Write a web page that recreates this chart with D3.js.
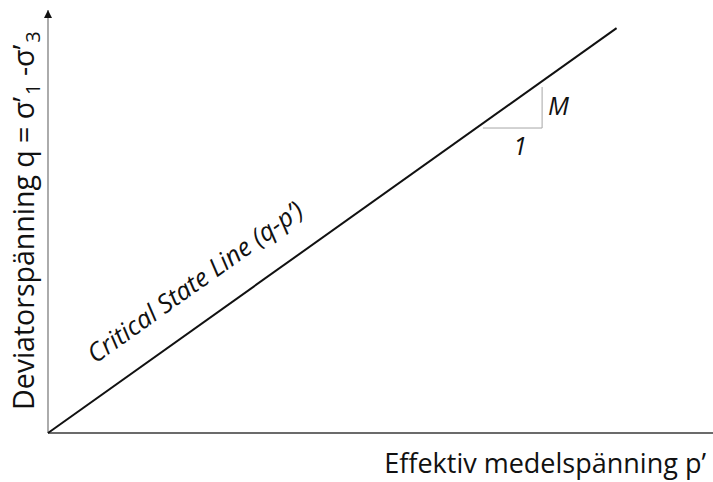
<!DOCTYPE html>
<html>
<head>
<meta charset="utf-8">
<script src="https://cdn.jsdelivr.net/npm/d3@7"></script>
<style>
  body { margin: 0; background: #fff; }
  text { font-family: "Open Sans", "Noto Sans", sans-serif; fill: #111; }
</style>
</head>
<body>
<div class="chart"></div>
<script>
// critical state line, schematic units (p', q)
const cslP = [0, 85.5];
const cslQ = [0, 95.7];

// slope triangle (1 : M)
const triP = [65.4, 74.3, 74.3];
const triQ = [72.1, 72.1, 81.8];

const xLabel = "Effektiv medelspänning p\u2019";
const yLabel = ["Deviatorspänning q = σ\u2019", "1", " -σ\u2019", "3"];
const cslLabel = "Critical State Line (q-p\u2019)";

const W = 713, H = 482;
const margin = { top: 10, right: 0, bottom: 49, left: 48 };

const x = d3.scaleLinear().domain([0, 100]).range([margin.left, W - margin.right]);
const y = d3.scaleLinear().domain([0, 100]).range([H - margin.bottom, margin.top]);

const svg = d3.select(".chart").append("svg")
  .attr("width", W)
  .attr("height", H);

svg.append("defs").append("marker")
  .attr("id", "arrow")
  .attr("viewBox", "0 0 10 10")
  .attr("refX", 10).attr("refY", 5)
  .attr("markerWidth", 8).attr("markerHeight", 8)
  .attr("markerUnits", "userSpaceOnUse")
  .attr("orient", "auto")
  .append("path")
  .attr("d", "M0,0L10,5L0,10Z")
  .attr("fill", "#111");

// axes (no ticks)
svg.append("line")
  .attr("x1", x(0)).attr("y1", y(0))
  .attr("x2", x(100)).attr("y2", y(0))
  .attr("stroke", "#3a3a3a")
  .attr("stroke-width", 1.6);

svg.append("line")
  .attr("x1", x(0)).attr("y1", y(0))
  .attr("x2", x(0)).attr("y2", y(100))
  .attr("stroke", "#7f7f7f")
  .attr("stroke-width", 1.3)
  .attr("marker-end", "url(#arrow)");

// CSL
const line = d3.line().x(d => x(d[0])).y(d => y(d[1]));
svg.append("path")
  .datum(d3.zip(cslP, cslQ))
  .attr("d", line)
  .attr("fill", "none")
  .attr("stroke", "#111")
  .attr("stroke-width", 2);

svg.append("path")
  .datum(d3.zip(triP, triQ))
  .attr("d", line)
  .attr("fill", "none")
  .attr("stroke", "#a6a6a6")
  .attr("stroke-width", 1);

svg.append("text")
  .attr("x", x(75.2)).attr("y", y(75.2))
  .style("font-size", "25px").style("font-style", "italic")
  .text("M");

svg.append("text")
  .attr("x", x(71)).attr("y", y(65.7))
  .attr("text-anchor", "middle")
  .style("font-size", "25px").style("font-style", "italic")
  .text("1");

// CSL label along the line
const ang = Math.atan2(y(cslQ[1]) - y(0), x(cslP[1]) - x(0)) * 180 / Math.PI;
svg.append("text")
  .attr("transform", `translate(${x(7.1)},${y(16.3)}) rotate(${ang})`)
  .style("font-size", "25.5px").style("font-style", "italic")
  .text(cslLabel);

// axis titles
svg.append("text")
  .attr("x", W - 7).attr("y", 473)
  .attr("text-anchor", "end")
  .style("font-size", "27px")
  .text(xLabel);

const yt = svg.append("text")
  .attr("transform", `translate(34,410) rotate(-90)`)
  .style("font-size", "28.5px");
yt.append("tspan").text(yLabel[0]);
yt.append("tspan").attr("dx", 2).attr("dy", 6).style("font-size", "20px").text(yLabel[1]);
yt.append("tspan").attr("dy", -6).text(yLabel[2]);
yt.append("tspan").attr("dx", 2).attr("dy", 6).style("font-size", "20px").text(yLabel[3]);
</script>
</body>
</html>
